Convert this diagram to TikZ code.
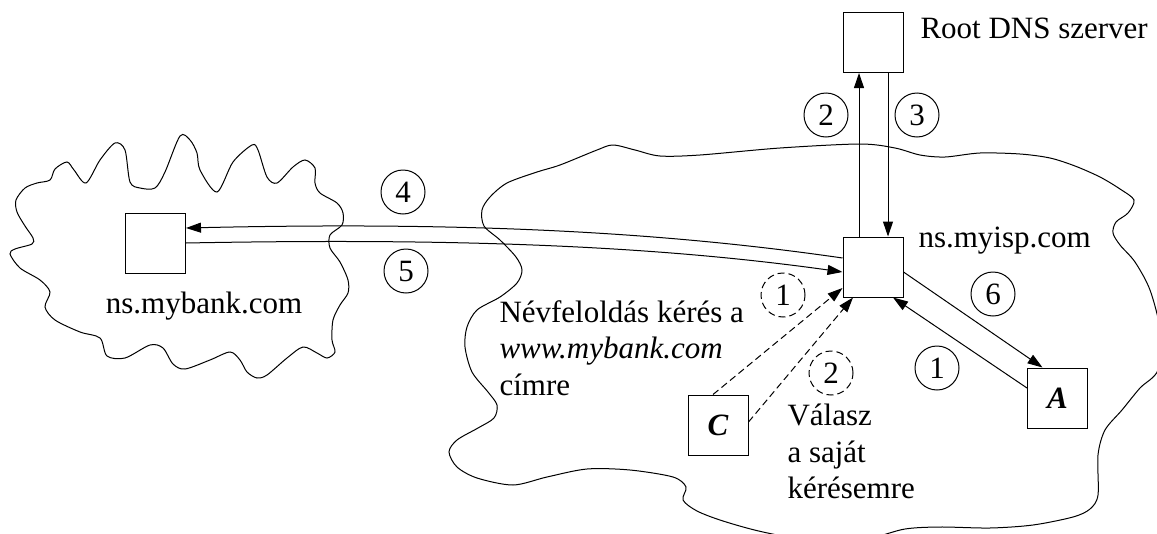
\documentclass[tikz,border=0pt]{standalone}
\usepackage{fontspec}
\setmainfont{Liberation Serif}
\usetikzlibrary{arrows.meta,calc}
\begin{document}
\begin{tikzpicture}[x=1pt,y=-1pt,line width=1pt,
  font=\fontsize{31}{36}\selectfont,
  box/.style={draw,minimum width=60pt,minimum height=60pt,inner sep=0pt},
  num/.style={circle,draw,minimum size=44pt,inner sep=0pt},
  dnum/.style={num,dash pattern=on 7pt off 4pt},
  arr/.style={-{Triangle[length=15pt,width=10pt]}},
  darr/.style={arr,dash pattern=on 7pt off 4pt},
  lbl/.style={anchor=base west,inner sep=0pt},
  cloudline/.style={line width=1pt}]
\useasboundingbox (0,0) rectangle (1157,533);

% ISP cloud
\draw[cloudline] plot[smooth cycle,tension=0.5] coordinates {
(597,150) (613,145) (635,150) (660,156) (700,155) (780,148) (860,144) (895,148)
(920,155) (945,157) (980,153) (1020,154) (1050,158) (1075,166) (1100,177) (1120,189)
(1134,200) (1128,213) (1116,222) (1113,233) (1120,245) (1135,262) (1150,290) (1160,330)
(1158,370) (1140,388) (1122,410) (1105,430) (1098,455) (1098,495) (1090,509) (1073,517)
(1033,525) (990,528) (940,527) (905,529) (870,538) (820,542) (763,532) (723,521)
(697,511) (683,500) (686,487) (673,477) (630,470) (587,469) (547,477) (513,485)
(477,478) (457,467) (449,452) (457,440) (478,428) (494,418) (497,405) (488,392)
(472,372) (465,347) (467,327) (477,310) (500,297) (517,283) (522,270) (516,257)
(500,240) (484,226) (482,210) (490,197) (507,183) (537,172) (560,165)};

% bank cloud
\draw[cloudline] plot[smooth cycle,tension=0.5] coordinates {
(320,193) (337,203) (343,213) (342,225) (330,235) (330,248) (340,262) (348,280)
(348,293) (340,305) (333,320) (332,340) (335,352) (327,358) (317,353) (303,347)
(287,358) (267,375) (257,378) (247,372) (240,360) (230,352) (210,360) (185,369)
(173,364) (163,348) (150,345) (125,358) (107,356) (100,338) (80,332) (55,320)
(45,307) (50,292) (40,280) (20,268) (10,254) (15,249) (32,244) (33,238)
(25,226) (17,212) (16,200) (25,188) (37,183) (50,180) (55,169) (67,162)
(74,170) (86,183) (100,160) (115,143) (125,150) (130,182) (140,188) (155,188)
(165,172) (180,136) (190,140) (197,153) (200,170) (217,192) (233,162) (252,145)
(258,150) (267,177) (277,183) (293,167) (305,160) (315,168) (315,183)};

% boxes
\node[box,fill=white] (root) at (873.5,42.5) {};
\node[box,fill=white] (isp) at (873,267) {};
\node[box,fill=white] (bank) at (155.5,243) {};
\node[box,fill=white] (A) at (1057.5,398) {\textbf{\textit{A}}};
\node[box,fill=white] (C) at (718,425) {\textbf{\textit{C}}};

% labels
\node[lbl] (rootlbl) at (920,38) {Root DNS szerver};
\node[lbl] (isplbl) at (918,247) {ns.myisp.com};
\node[anchor=base,inner sep=0pt] (banklbl) at (204,313) {ns.mybank.com};
\node[lbl] (q1) at (499,322) {Névfeloldás kérés a};
\node[lbl] (q2) at (499,358) {\textit{www.mybank.com}};
\node[lbl] (q3) at (499,395) {címre};
\node[lbl] (v1) at (787,425) {Válasz};
\node[lbl] (v2) at (787,462) {a saját};
\node[lbl] (v3) at (787,498) {kérésemre};

% numbers
\node[num] (n2) at (826,115) {2};
\node[num] (n3) at (917,115) {3};
\node[num] (n4) at (403,192) {4};
\node[num] (n5) at (406,271) {5};
\node[num] (n6) at (993,294) {6};
\node[num] (n1) at (937,368) {1};
\node[dnum] (d1) at (783,295) {1};
\node[dnum] (d2) at (831,373) {2};

% connectors
\draw[arr] ($(isp.north)+(-14,0)$) -- ($(root.south)+(-14.5,0)$);
\draw[arr] ($(root.south)+(14.5,0)$) -- ($(isp.north)+(15,0)$);
\draw[arr] ($(isp.west)+(0,-9)$) .. controls (650,230) and (450,222) .. ($(bank.east)+(0,-15)$);
\draw[arr] (bank.east) .. controls (450,238) and (650,245) .. ($(isp.west)+(0,5)$);
\draw[arr] ($(isp.east)+(0,5)$) -- ($(A.north)+(-15,0)$);
\draw[arr] ($(A.west)+(0,-10)$) -- ($(isp.south)+(20,0)$);
\draw[darr] ($(C.north)+(-5,0)$) -- ($(isp.west)+(0,21)$);
\draw[darr] ($(C.east)+(0,-3)$) -- ($(isp.south)+(-20,0)$);
\end{tikzpicture}
\end{document}
